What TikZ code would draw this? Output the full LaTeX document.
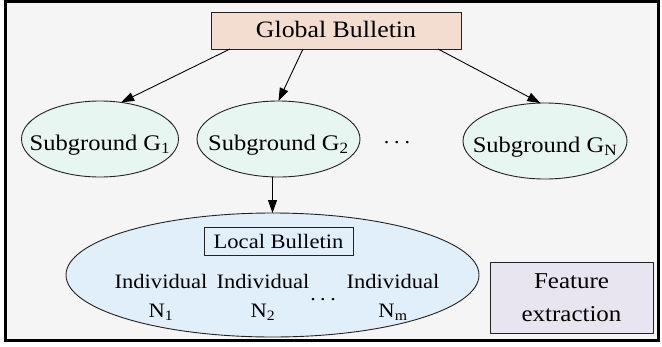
\documentclass[tikz,border=0pt]{standalone}
\usepackage{fontspec}
\setmainfont{Liberation Serif}[FakeStretch=1.1]
\usetikzlibrary{arrows.meta,shapes.geometric,calc}
\definecolor{panelgray}{RGB}{245,245,245}
\definecolor{globalfill}{RGB}{242,221,208}
\definecolor{subfill}{RGB}{232,246,242}
\definecolor{localfill}{RGB}{225,239,251}
\definecolor{featfill}{RGB}{232,228,240}
\definecolor{edgegray}{RGB}{35,35,35}
% text that does not widen its ellipse
\newcommand{\flatlabel}[1]{\makebox[0pt]{#1}}

\begin{document}
\begin{tikzpicture}[x=1pt, y=-1pt, >={Triangle[length=13pt,width=9pt]},
  every node/.style={inner sep=0pt, outer sep=0pt},
  link/.style={->, line width=0.9pt, draw=black},
  bulletin/.style={rectangle, draw=edgegray, line width=0.9pt},
  subground/.style={ellipse, draw=edgegray, line width=0.9pt, fill=subfill,
    minimum width=160pt, minimum height=76pt, text height=22pt, text depth=0pt,
    font=\fontsize{22.3}{26}\selectfont},
  member/.style={align=center, anchor=north, font=\fontsize{20.5}{29}\selectfont},
  dotsnode/.style={font=\fontsize{20}{20}\selectfont}]
  \useasboundingbox (0,0) rectangle (662,346);
  \fill[white] (0,0) rectangle (662,346);
  % outer panel
  \draw[line width=3pt, fill=panelgray] (5.5,1.5) rectangle (658.5,340.5);

  % top level
  \node[bulletin, fill=globalfill, minimum width=250pt, minimum height=37pt,
    text height=14pt, text depth=0pt, font=\fontsize{23.5}{28}\selectfont]
    (global) at (336,30.5) {Global Bulletin};

  % subgrounds
  \node[subground, minimum width=157pt] (g1) at (100,139) {\flatlabel{Subground G\textsubscript{1}}};
  \node[subground, minimum width=163pt] (g2) at (278.5,139) {\flatlabel{Subground G\textsubscript{2}}};
  \node[dotsnode] (gdots) at (397,143) {.\hspace{5pt}.\hspace{5pt}.};
  \node[subground, minimum width=164pt] (gn) at (545,141) {\flatlabel{Subground G\textsubscript{N}}};

  % local group
  \node[ellipse, draw=edgegray, line width=0.9pt, fill=localfill,
    minimum width=413pt, minimum height=124pt] (local) at (272.5,275) {};
  \node[bulletin, fill=localfill, minimum width=149pt, minimum height=28pt,
    text height=14.6pt, text depth=0pt, font=\fontsize{20.5}{24}\selectfont]
    (localb) at (278.5,241) {Local Bulletin};
  \node[member] (ind1) at (161,274) {Individual\\N\textsubscript{1}};
  \node[member] (ind2) at (263,274) {Individual\\N\textsubscript{2}};
  \node[dotsnode] (ndots) at (323,300) {.\hspace{4.5pt}.\hspace{4.5pt}.};
  \node[member] (indm) at (393,274) {Individual\\N\textsubscript{m}};

  \node[bulletin, fill=featfill, minimum width=163pt, minimum height=71pt,
    align=center, font=\fontsize{22.7}{33}\selectfont]
    (feat) at (571.5,297.5) {Feature\\extraction};

  % edges
  \draw[link] ([xshift=-106pt]global.south) -- (g1.60);
  \draw[link] ([xshift=-33pt]global.south) -- (g2.north);
  \draw[link] ([xshift=102pt]global.south) -- (gn.97);
  \draw[link] (g2.south -| local.north) -- (local.north);
\end{tikzpicture}
\end{document}
